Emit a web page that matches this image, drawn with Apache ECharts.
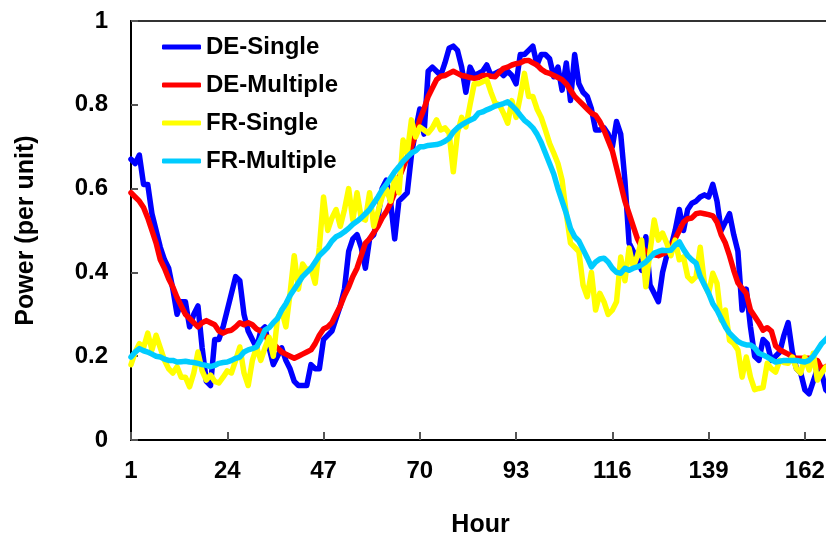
<!DOCTYPE html>
<html>
<head>
<meta charset="utf-8">
<title>Power per unit by hour</title>
<script src="https://cdn.jsdelivr.net/npm/echarts@6/dist/echarts.min.js"></script>
<style>
  html, body { margin: 0; padding: 0; background: #fff; }
  #chart { width: 826px; height: 535px; }
</style>
</head>
<body>
<div id="chart"></div>
<script>
// Hours of the week (1..168); every 23rd hour is labelled on the axis
const hours = [];
for (let h = 1; h <= 168; h++) hours.push(String(h));

const seriesNames = ['DE-Single', 'DE-Multiple', 'FR-Single', 'FR-Multiple'];

const deSingle = [
  0.67, 0.66, 0.68, 0.61, 0.61, 0.54, 0.50, 0.46, 0.43, 0.41,
  0.36, 0.30, 0.33, 0.33, 0.27, 0.30, 0.32, 0.22, 0.14, 0.13,
  0.24, 0.24, 0.27, 0.31, 0.35, 0.39, 0.38, 0.30, 0.26, 0.24,
  0.22, 0.26, 0.27, 0.22, 0.18, 0.20, 0.22, 0.19, 0.17, 0.14,
  0.13, 0.13, 0.13, 0.18, 0.17, 0.17, 0.24, 0.25, 0.26, 0.29,
  0.32, 0.36, 0.45, 0.48, 0.49, 0.46, 0.41, 0.48, 0.49, 0.53,
  0.60, 0.62, 0.57, 0.48, 0.57, 0.58, 0.59, 0.68, 0.74, 0.79,
  0.73, 0.88, 0.89, 0.88, 0.87, 0.90, 0.935, 0.94, 0.93, 0.89,
  0.83, 0.89, 0.87, 0.875, 0.88, 0.895, 0.87, 0.875, 0.88, 0.87,
  0.88, 0.87, 0.85, 0.92, 0.92, 0.93, 0.94, 0.895, 0.92, 0.92,
  0.91, 0.867, 0.89, 0.835, 0.90, 0.81, 0.92, 0.85, 0.83, 0.82,
  0.79, 0.74, 0.74, 0.745, 0.73, 0.70, 0.76, 0.73, 0.62, 0.47,
  0.45, 0.43, 0.405, 0.485, 0.37, 0.35, 0.33, 0.40, 0.44, 0.46,
  0.50, 0.55, 0.50, 0.55, 0.565, 0.57, 0.58, 0.585, 0.58, 0.61,
  0.57, 0.50, 0.52, 0.54, 0.49, 0.45, 0.31, 0.36, 0.27, 0.20,
  0.19, 0.24, 0.23, 0.19, 0.20, 0.21, 0.25, 0.28, 0.21, 0.17,
  0.16, 0.12, 0.11, 0.14, 0.17, 0.16, 0.12, 0.11
];

const deMultiple = [
  0.59, 0.58, 0.57, 0.555, 0.53, 0.50, 0.47, 0.43, 0.41, 0.385,
  0.365, 0.34, 0.32, 0.30, 0.29, 0.28, 0.27, 0.28, 0.285, 0.28,
  0.275, 0.26, 0.255, 0.26, 0.262, 0.27, 0.28, 0.275, 0.28, 0.275,
  0.265, 0.26, 0.25, 0.24, 0.23, 0.22, 0.21, 0.205, 0.20, 0.195,
  0.20, 0.205, 0.21, 0.215, 0.23, 0.25, 0.265, 0.27, 0.28, 0.30,
  0.32, 0.345, 0.365, 0.39, 0.41, 0.44, 0.47, 0.48, 0.495, 0.51,
  0.53, 0.545, 0.565, 0.59, 0.625, 0.65, 0.675, 0.70, 0.73, 0.765,
  0.79, 0.82, 0.84, 0.86, 0.868, 0.87, 0.875, 0.88, 0.875, 0.87,
  0.868, 0.865, 0.863, 0.865, 0.87, 0.87, 0.868, 0.867, 0.878, 0.887,
  0.89, 0.895, 0.898, 0.90, 0.905, 0.906, 0.90, 0.895, 0.885, 0.878,
  0.875, 0.87, 0.865, 0.86, 0.85, 0.835, 0.82, 0.81, 0.80, 0.79,
  0.78, 0.775, 0.76, 0.74, 0.715, 0.69, 0.65, 0.61, 0.57, 0.54,
  0.51, 0.48, 0.46, 0.45, 0.446, 0.442, 0.44, 0.444, 0.448, 0.46,
  0.48, 0.50, 0.52, 0.528, 0.53, 0.54, 0.542, 0.54, 0.538, 0.535,
  0.52, 0.49, 0.47, 0.44, 0.405, 0.375, 0.362, 0.35, 0.31, 0.295,
  0.28, 0.262, 0.268, 0.26, 0.225, 0.215, 0.21, 0.205, 0.198, 0.195,
  0.195, 0.195, 0.195, 0.19, 0.19, 0.17, 0.175, 0.18
];

const frSingle = [
  0.18, 0.21, 0.23, 0.22, 0.255, 0.215, 0.25, 0.22, 0.19, 0.17,
  0.16, 0.175, 0.15, 0.15, 0.127, 0.16, 0.21, 0.165, 0.143, 0.155,
  0.14, 0.136, 0.15, 0.165, 0.16, 0.19, 0.222, 0.16, 0.13, 0.19,
  0.222, 0.19, 0.22, 0.245, 0.20, 0.29, 0.31, 0.27, 0.35, 0.44,
  0.36, 0.42, 0.405, 0.41, 0.374, 0.46, 0.58, 0.50, 0.53, 0.55,
  0.51, 0.55, 0.60, 0.525, 0.59, 0.53, 0.525, 0.59, 0.51, 0.545,
  0.58, 0.60, 0.57, 0.628, 0.59, 0.716, 0.685, 0.764, 0.723, 0.747,
  0.74, 0.733, 0.745, 0.764, 0.74, 0.745, 0.733, 0.64, 0.733, 0.77,
  0.747, 0.80, 0.85, 0.85, 0.855, 0.86, 0.83, 0.804, 0.80, 0.78,
  0.756, 0.81, 0.77, 0.82, 0.875, 0.82, 0.82, 0.79, 0.77, 0.74,
  0.708, 0.685, 0.66, 0.62, 0.54, 0.47, 0.46, 0.45, 0.37, 0.342,
  0.40, 0.31, 0.35, 0.33, 0.30, 0.31, 0.33, 0.437, 0.38, 0.458,
  0.413, 0.44, 0.477, 0.366, 0.45, 0.525, 0.477, 0.494, 0.47, 0.44,
  0.477, 0.43, 0.437, 0.39, 0.38, 0.39, 0.46, 0.374, 0.35, 0.398,
  0.374, 0.286, 0.31, 0.238, 0.23, 0.215, 0.15, 0.198, 0.15, 0.12,
  0.123, 0.125, 0.183, 0.17, 0.162, 0.19, 0.185, 0.183, 0.198, 0.17,
  0.16, 0.198, 0.167, 0.207, 0.143, 0.16, 0.174, 0.17
];

const frMultiple = [
  0.198, 0.21, 0.218, 0.213, 0.21, 0.205, 0.20, 0.198, 0.193, 0.19,
  0.19, 0.186, 0.187, 0.188, 0.186, 0.185, 0.183, 0.18, 0.178, 0.175,
  0.178, 0.183, 0.185, 0.186, 0.19, 0.195, 0.198, 0.21, 0.215, 0.218,
  0.222, 0.24, 0.262, 0.268, 0.28, 0.29, 0.31, 0.325, 0.345, 0.36,
  0.375, 0.39, 0.40, 0.41, 0.425, 0.44, 0.45, 0.46, 0.475, 0.485,
  0.49, 0.497, 0.505, 0.515, 0.522, 0.53, 0.54, 0.55, 0.565, 0.58,
  0.597, 0.61, 0.625, 0.64, 0.652, 0.665, 0.675, 0.685, 0.69, 0.70,
  0.70, 0.703, 0.704, 0.705, 0.708, 0.713, 0.72, 0.735, 0.745, 0.752,
  0.758, 0.763, 0.768, 0.78, 0.783, 0.788, 0.792, 0.797, 0.80, 0.803,
  0.807, 0.798, 0.788, 0.775, 0.763, 0.755, 0.745, 0.73, 0.71, 0.685,
  0.66, 0.635, 0.60, 0.57, 0.54, 0.505, 0.485, 0.475, 0.455, 0.435,
  0.413, 0.425, 0.432, 0.434, 0.425, 0.41, 0.40, 0.398, 0.41, 0.405,
  0.41, 0.413, 0.418, 0.425, 0.435, 0.446, 0.45, 0.453, 0.452, 0.453,
  0.465, 0.473, 0.455, 0.44, 0.43, 0.422, 0.39, 0.37, 0.35, 0.325,
  0.31, 0.29, 0.27, 0.255, 0.245, 0.235, 0.23, 0.227, 0.227, 0.22,
  0.207, 0.203, 0.198, 0.192, 0.186, 0.188, 0.19, 0.19, 0.19, 0.19,
  0.188, 0.186, 0.19, 0.20, 0.215, 0.23, 0.24, 0.25
];

const yTicks = ['0', '0.2', '0.4', '0.6', '0.8', '1'];

const colors = ['#0000FF', '#FF0000', '#FFFF00', '#00CCFF'];
const values = [deSingle, deMultiple, frSingle, frMultiple];

const FONT = '"Liberation Sans", Arial, Helvetica, sans-serif';

const chart = echarts.init(document.getElementById('chart'), null, { renderer: 'canvas' });

chart.setOption({
  animation: false,
  backgroundColor: '#ffffff',
  grid: {
    left: 131,
    top: 21,
    right: -4,
    bottom: 95,
    containLabel: false,
    outerBoundsMode: 'none',
    show: true,
    borderColor: '#333333',
    borderWidth: 2,
    backgroundColor: 'transparent'
  },
  legend: {
    orient: 'vertical',
    left: 162,
    top: 35,
    padding: 0,
    icon: 'roundRect',
    itemWidth: 39,
    itemHeight: 5,
    itemGap: 14,
    data: seriesNames,
    textStyle: {
      fontFamily: FONT,
      fontWeight: 'bold',
      fontSize: 24,
      color: '#000'
    }
  },
  xAxis: {
    type: 'category',
    data: hours,
    boundaryGap: false,
    name: 'Hour',
    nameLocation: 'middle',
    nameGap: 73,
    nameTextStyle: {
      fontFamily: FONT,
      fontWeight: 'bold',
      fontSize: 25,
      color: '#000'
    },
    axisLine: { lineStyle: { color: '#000', width: 2 } },
    axisTick: {
      inside: true,
      length: 8,
      interval: 22,
      lineStyle: { color: '#555', width: 2 }
    },
    axisLabel: {
      interval: 22,
      margin: 19,
      fontFamily: FONT,
      fontWeight: 'bold',
      fontSize: 24,
      color: '#000'
    },
    splitLine: { show: false }
  },
  yAxis: {
    type: 'value',
    min: 0,
    max: 1,
    interval: 0.2,
    name: 'Power (per unit)',
    nameLocation: 'middle',
    nameGap: 92,
    nameRotate: 90,
    nameTextStyle: {
      fontFamily: FONT,
      fontWeight: 'bold',
      fontSize: 25,
      color: '#000'
    },
    axisLine: { show: true, lineStyle: { color: '#000', width: 2 } },
    axisTick: {
      show: true,
      inside: true,
      length: 7,
      lineStyle: { color: '#555', width: 2 }
    },
    axisLabel: {
      margin: 23,
      fontFamily: FONT,
      fontWeight: 'bold',
      fontSize: 24,
      color: '#000',
      formatter: function (v) {
        const i = Math.round(v / 0.2);
        return yTicks[i] !== undefined ? yTicks[i] : String(v);
      }
    },
    splitLine: { show: false }
  },
  series: seriesNames.map(function (name, i) {
    return {
      name: name,
      type: 'line',
      data: values[i],
      symbol: 'none',
      smooth: false,
      color: colors[i],
      lineStyle: { width: 5.5, color: colors[i], cap: 'round', join: 'round' },
      z: 2 + i
    };
  })
});
</script>
</body>
</html>
